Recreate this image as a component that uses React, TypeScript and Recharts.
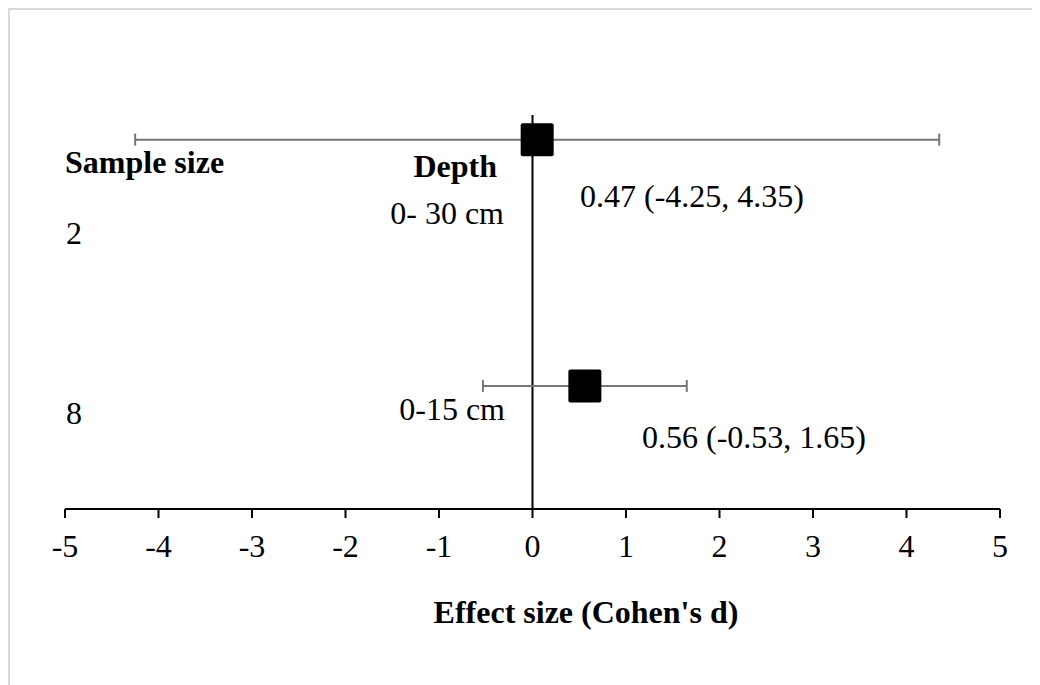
import { ComposedChart, Scatter, XAxis, YAxis, ErrorBar, ReferenceLine } from 'recharts';

const depths = ['0- 30 cm', '0-15 cm'];
const sampleSizes = ['2', '8'];
const effects = [0.05, 0.56];
const lowerCI = [-4.25, -0.53];
const upperCI = [4.35, 1.65];
const effectLabels = ['0.47 (-4.25, 4.35)', '0.56 (-0.53, 1.65)'];
const rows = [3, 1];
const xTicks = [-5, -4, -3, -2, -1, 0, 1, 2, 3, 4, 5];

const data = effects.map((d, i) => ({
  name: depths[i],
  d,
  row: rows[i],
  err: [d - lowerCI[i], upperCI[i] - d],
}));

const FONT = '"Liberation Serif", "Times New Roman", serif';
const W = 1032;
const H = 677;

function Square(props: any) {
  const { cx, cy } = props;
  const s = 33;
  return <rect x={cx - s / 2} y={cy - s / 2} width={s} height={s} rx={2} fill="#000" />;
}

export default function App() {
  return (
    <div style={{ position: 'relative', width: W, height: H }}>
      <ComposedChart
        width={W}
        height={H}
        data={data}
        margin={{ top: 107, right: 40, bottom: 136, left: 57 }}
      >
        <XAxis
          type="number"
          dataKey="d"
          domain={[-5, 5]}
          ticks={xTicks}
          interval={0}
          height={40}
          axisLine={{ stroke: '#000', strokeWidth: 2 }}
          tickLine={{ stroke: '#000', strokeWidth: 2 }}
          tickSize={9}
          tickMargin={16}
          tick={{ fill: '#000', fontSize: 32, fontFamily: FONT }}
        />
        <YAxis type="number" dataKey="row" domain={[0, 3.2]} hide />
        <ReferenceLine x={0} stroke="#000" strokeWidth={2} />
        <Scatter dataKey="row" shape={<Square />} isAnimationActive={false}>
          <ErrorBar
            dataKey="err"
            direction="x"
            width={6}
            stroke="#767676"
            strokeWidth={2}
            isAnimationActive={false}
          />
        </Scatter>
      </ComposedChart>
      <svg
        width={W}
        height={H}
        style={{ position: 'absolute', left: 0, top: 0, pointerEvents: 'none' }}
        fontFamily={FONT}
        fontSize={32}
        fill="#000"
      >
        <text x={57} y={165} fontWeight="bold">Sample size</text>
        <text x={489} y={169} fontWeight="bold" textAnchor="end">Depth</text>
        <text x={496} y={216} textAnchor="end">{depths[0]}</text>
        <text x={58} y={236}>{sampleSizes[0]}</text>
        <text x={572} y={199}>{effectLabels[0]}</text>
        <text x={58} y={416}>{sampleSizes[1]}</text>
        <text x={497} y={412} textAnchor="end">{depths[1]}</text>
        <text x={634} y={440}>{effectLabels[1]}</text>
        <text x={578} y={615} fontWeight="bold" textAnchor="middle">Effect size (Cohen's d)</text>
        <line x1={0} y1={1} x2={W} y2={1} stroke="#d9d9d9" strokeWidth={2} />
        <line x1={1} y1={0} x2={1} y2={H} stroke="#d9d9d9" strokeWidth={2} />
      </svg>
    </div>
  );
}
